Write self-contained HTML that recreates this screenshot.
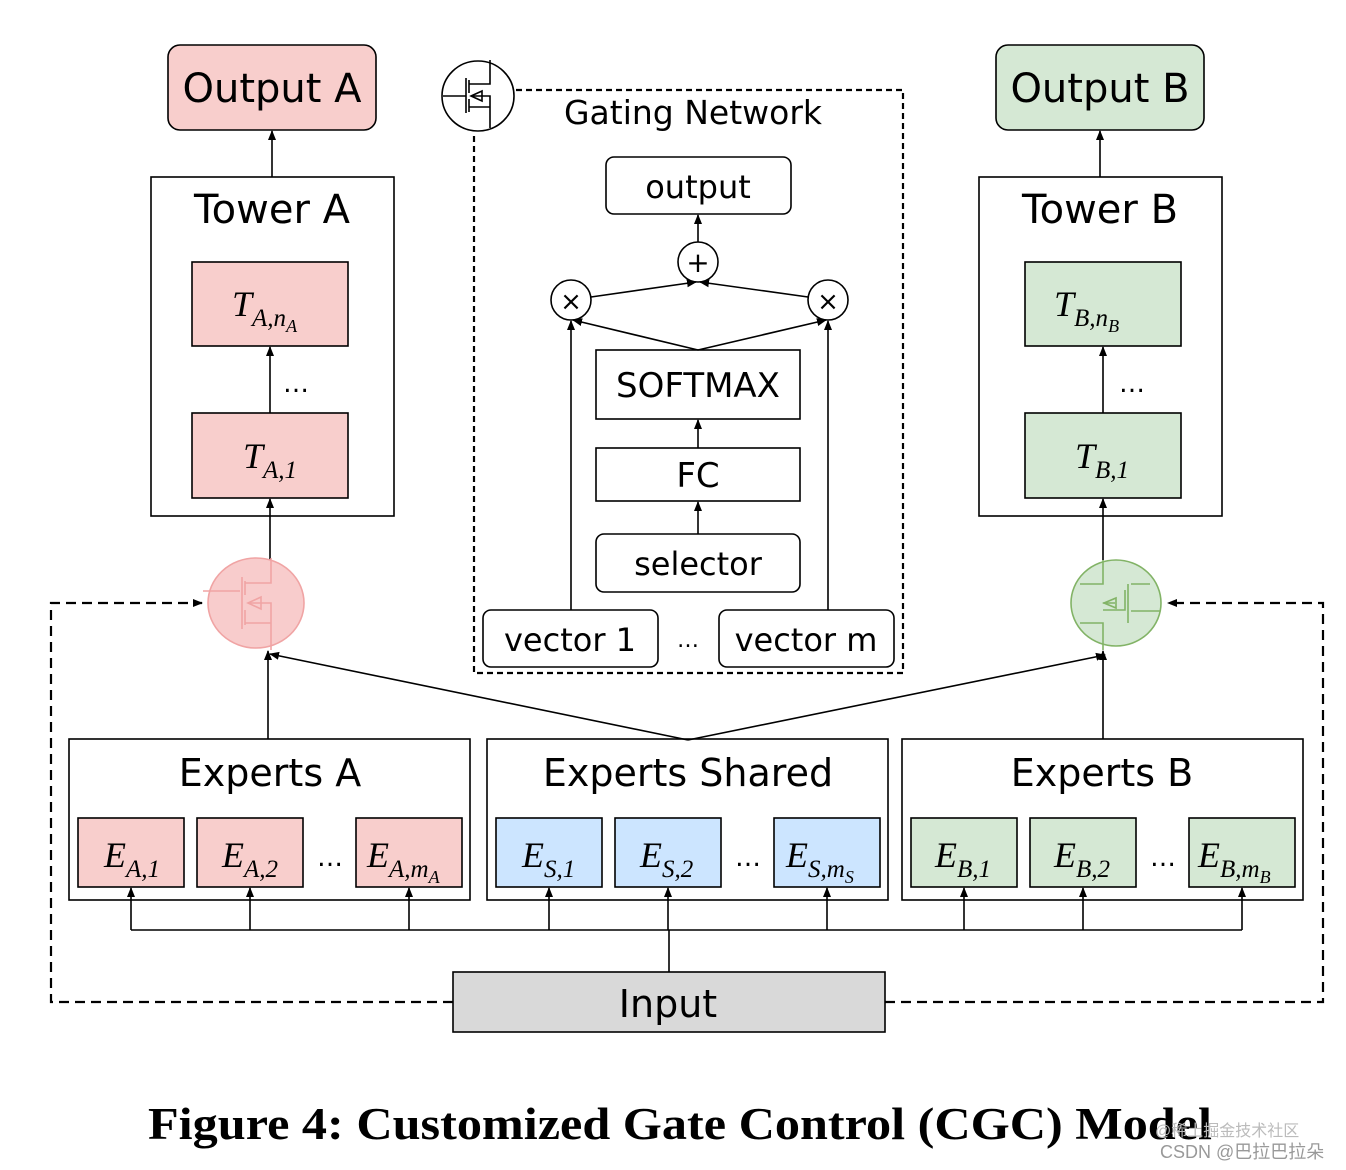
<!DOCTYPE html>
<html><head><meta charset="utf-8"><style>
html,body{margin:0;padding:0;background:#fff;}
svg{display:block;}
.s{font-family:"DejaVu Sans","Liberation Sans",sans-serif;}
.m{font-family:"Liberation Serif",serif;font-style:italic;}
</style></head><body>
<svg width="1346" height="1170" viewBox="0 0 1346 1170" xmlns="http://www.w3.org/2000/svg">
<defs>
<marker id="a" markerWidth="10" markerHeight="10" refX="9" refY="5" orient="auto" markerUnits="userSpaceOnUse"><path d="M0,1 L10,5 L0,9 z" fill="#000"/></marker>
</defs>
<g stroke="#000" stroke-width="1.6" fill="none">
<rect x="168" y="45" width="208" height="85" rx="12" fill="#f8cecc"/>
<rect x="996" y="45" width="208" height="85" rx="12" fill="#d5e8d4"/>
<rect x="151" y="177" width="243" height="339"/>
<rect x="979" y="177" width="243" height="339"/>
<rect x="192" y="262" width="156" height="84" fill="#f8cecc"/>
<rect x="192" y="413" width="156" height="85" fill="#f8cecc"/>
<rect x="1025" y="262" width="156" height="84" fill="#d5e8d4"/>
<rect x="1025" y="413" width="156" height="85" fill="#d5e8d4"/>
<line x1="272" y1="177" x2="272" y2="131" marker-end="url(#a)"/>
<line x1="1100" y1="177" x2="1100" y2="131" marker-end="url(#a)"/>
<line x1="270" y1="413" x2="270" y2="347" marker-end="url(#a)"/>
<line x1="1103" y1="413" x2="1103" y2="347" marker-end="url(#a)"/>
<line x1="270" y1="560" x2="270" y2="499" marker-end="url(#a)"/>
<line x1="1103" y1="560" x2="1103" y2="499" marker-end="url(#a)"/>
<rect x="69" y="739" width="401" height="161"/>
<rect x="487" y="739" width="401" height="161"/>
<rect x="902" y="739" width="401" height="161"/>
<rect x="78" y="818" width="106" height="69" fill="#f8cecc"/>
<rect x="197" y="818" width="106" height="69" fill="#f8cecc"/>
<rect x="356" y="818" width="106" height="69" fill="#f8cecc"/>
<rect x="496" y="818" width="106" height="69" fill="#cce5ff"/>
<rect x="615" y="818" width="106" height="69" fill="#cce5ff"/>
<rect x="774" y="818" width="106" height="69" fill="#cce5ff"/>
<rect x="911" y="818" width="106" height="69" fill="#d5e8d4"/>
<rect x="1030" y="818" width="106" height="69" fill="#d5e8d4"/>
<rect x="1189" y="818" width="106" height="69" fill="#d5e8d4"/>
<rect x="453" y="972" width="432" height="60" fill="#d9d9d9"/>
<line x1="669" y1="972" x2="669" y2="930"/>
<line x1="131" y1="930" x2="1242" y2="930"/>
<line x1="131" y1="930" x2="131" y2="888" marker-end="url(#a)"/>
<line x1="250" y1="930" x2="250" y2="888" marker-end="url(#a)"/>
<line x1="409" y1="930" x2="409" y2="888" marker-end="url(#a)"/>
<line x1="549" y1="930" x2="549" y2="888" marker-end="url(#a)"/>
<line x1="668" y1="930" x2="668" y2="888" marker-end="url(#a)"/>
<line x1="827" y1="930" x2="827" y2="888" marker-end="url(#a)"/>
<line x1="964" y1="930" x2="964" y2="888" marker-end="url(#a)"/>
<line x1="1083" y1="930" x2="1083" y2="888" marker-end="url(#a)"/>
<line x1="1242" y1="930" x2="1242" y2="888" marker-end="url(#a)"/>
<line x1="268" y1="739" x2="268" y2="651" marker-end="url(#a)"/>
<line x1="1103" y1="739" x2="1103" y2="651" marker-end="url(#a)"/>
<line x1="688" y1="740" x2="270" y2="654" marker-end="url(#a)"/>
<line x1="688" y1="740" x2="1105" y2="655" marker-end="url(#a)"/>
<path d="M453,1002 H51 V603 H202" stroke-dasharray="10,6" stroke-width="2.2" marker-end="url(#a)"/>
<path d="M885,1002 H1323 V603 H1168" stroke-dasharray="10,6" stroke-width="2.2" marker-end="url(#a)"/>
<path d="M516,90 H903 V673 H474 V134" stroke-dasharray="6,4" stroke-width="2.2"/>
<rect x="606" y="157" width="185" height="57" rx="8"/>
<circle cx="698" cy="262" r="20"/>
<circle cx="571" cy="300" r="20"/>
<circle cx="828" cy="300" r="20"/>
<rect x="596" y="350" width="204" height="69"/>
<rect x="596" y="448" width="204" height="53"/>
<rect x="596" y="534" width="204" height="58" rx="8"/>
<rect x="483" y="610" width="175" height="57" rx="8"/>
<rect x="719" y="610" width="175" height="57" rx="8"/>
<line x1="698" y1="448" x2="698" y2="420" marker-end="url(#a)"/>
<line x1="698" y1="534" x2="698" y2="502" marker-end="url(#a)"/>
<line x1="571" y1="610" x2="571" y2="321" marker-end="url(#a)"/>
<line x1="828" y1="610" x2="828" y2="321" marker-end="url(#a)"/>
<line x1="698" y1="350" x2="573" y2="320" marker-end="url(#a)"/>
<line x1="698" y1="350" x2="826" y2="320" marker-end="url(#a)"/>
<line x1="591" y1="297" x2="696" y2="282" marker-end="url(#a)"/>
<line x1="808" y1="297" x2="700" y2="282" marker-end="url(#a)"/>
<line x1="698" y1="242" x2="698" y2="215" marker-end="url(#a)"/>
<ellipse cx="478" cy="96" rx="36" ry="35" fill="#fff"/>
<path d="M443,96 H466 M466,78 V113 M469,80 V93 M469,99 V112 M469,84 H490 V60 M469,107 H490 V128 M472,96 H490 V107"/>
<path d="M471,96 L482,91 L482,101 z"/>
</g>
<g fill="#f8cccc" stroke="#f0a4a4" stroke-width="1.6">
<ellipse cx="256" cy="603" rx="48" ry="45"/>
<path d="M203,591 H240 M242,577 V629 M245,581 V595 M245,610 V625 M245,583 H271 V558 M245,623 H271 V650 M248,603 H271 V625" fill="none"/>
<path d="M248,603 L261,597 L261,609 z" fill="none"/>
</g>
<g fill="#d5e8d4" stroke="#82b366" stroke-width="1.6">
<ellipse cx="1116" cy="603" rx="45" ry="43"/>
<path d="M1103,560 V584 H1080 M1103,650 V623 H1080 M1103,610 H1125 V590 M1128,584 V623 M1131,584 H1150 M1131,611 H1160 M1103,603 H1115" fill="none"/>
<path d="M1104,603 L1116,598 L1116,608 z" fill="none"/>
</g>
<g class="s" fill="#000" text-anchor="middle">
<text x="272" y="102" font-size="40">Output A</text>
<text x="1100" y="102" font-size="40">Output B</text>
<text x="272" y="223" font-size="40">Tower A</text>
<text x="1100" y="223" font-size="40">Tower B</text>
<text x="296" y="392" font-size="26">…</text>
<text x="1132" y="392" font-size="26">…</text>
<text x="270" y="786" font-size="38">Experts A</text>
<text x="688" y="786" font-size="38">Experts Shared</text>
<text x="1102" y="786" font-size="38">Experts B</text>
<text x="330" y="866" font-size="26">…</text>
<text x="748" y="866" font-size="26">…</text>
<text x="1163" y="866" font-size="26">…</text>
<text x="668" y="1017" font-size="38">Input</text>
<text x="693" y="124" font-size="33">Gating Network</text>
<text x="698" y="198" font-size="32">output</text>
<text x="698" y="272" font-size="28">+</text>
<text x="571" y="310" font-size="26">×</text>
<text x="828" y="310" font-size="26">×</text>
<text x="698" y="397" font-size="34">SOFTMAX</text>
<text x="698" y="487" font-size="34">FC</text>
<text x="698" y="575" font-size="32">selector</text>
<text x="570" y="651" font-size="32">vector 1</text>
<text x="806" y="651" font-size="32">vector m</text>
<text x="688" y="647" font-size="22">…</text>
</g>
<g class="m" fill="#000">
<text x="232" y="316" font-size="36">T<tspan font-size="25" dy="10">A,n</tspan><tspan font-size="18" dy="6">A</tspan></text>
<text x="243" y="468" font-size="36">T<tspan font-size="25" dy="10">A,1</tspan></text>
<text x="1054" y="316" font-size="36">T<tspan font-size="25" dy="10">B,n</tspan><tspan font-size="18" dy="6">B</tspan></text>
<text x="1075" y="468" font-size="36">T<tspan font-size="25" dy="10">B,1</tspan></text>
<text x="104" y="867" font-size="36">E<tspan font-size="25" dy="10">A,1</tspan></text>
<text x="222" y="867" font-size="36">E<tspan font-size="25" dy="10">A,2</tspan></text>
<text x="367" y="867" font-size="36">E<tspan font-size="25" dy="10">A,m</tspan><tspan font-size="18" dy="6">A</tspan></text>
<text x="522" y="867" font-size="36">E<tspan font-size="25" dy="10">S,1</tspan></text>
<text x="640" y="867" font-size="36">E<tspan font-size="25" dy="10">S,2</tspan></text>
<text x="786" y="867" font-size="36">E<tspan font-size="25" dy="10">S,m</tspan><tspan font-size="18" dy="6">S</tspan></text>
<text x="935" y="867" font-size="36">E<tspan font-size="25" dy="10">B,1</tspan></text>
<text x="1054" y="867" font-size="36">E<tspan font-size="25" dy="10">B,2</tspan></text>
<text x="1198" y="867" font-size="36">E<tspan font-size="25" dy="10">B,m</tspan><tspan font-size="18" dy="6">B</tspan></text>
</g>
<text x="148" y="1139" font-family="Liberation Serif,serif" font-weight="bold" font-size="45" textLength="1064" lengthAdjust="spacingAndGlyphs">Figure 4: Customized Gate Control (CGC) Model</text>
<text x="1155" y="1136" font-family="Liberation Sans,'Noto Sans CJK SC',sans-serif" font-size="16" fill="#bbb">@稀土掘金技术社区</text>
<text x="1160" y="1158" font-family="Liberation Sans,'Noto Sans CJK SC',sans-serif" font-size="18" fill="#999">CSDN @巴拉巴拉朵</text>
</svg>
</body></html>
